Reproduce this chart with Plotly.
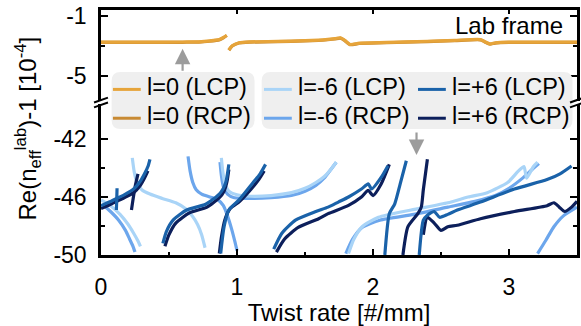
import plotly.graph_objects as go

# ---------------- data ----------------
# Top panel: l=0 (lab frame), values in 1e-4
l0_lcp_x = [0, 0.3, 0.6, 0.72, 0.8, 0.87, 0.9, 0.925, None, 0.94, 0.965, 1.015, 1.1, 1.3, 1.5, 1.65, 1.72, 1.76, 1.79, 1.83, 1.9, 2.1, 2.4, 2.6, 2.79, 2.82, 2.86, 2.9, 3.0, 3.2, 3.5]
l0_lcp_y = [-2.76, -2.76, -2.75, -2.74, -2.68, -2.59, -2.45, -2.3, None, -3.28, -3.0, -2.8, -2.74, -2.71, -2.66, -2.6, -2.53, -2.47, -2.62, -2.91, -2.83, -2.78, -2.7, -2.64, -2.59, -2.72, -2.87, -2.8, -2.76, -2.76, -2.75]
l0_rcp_x = [0, 0.3, 0.6, 0.72, 0.8, 0.87, 0.9, 0.925, None, 0.94, 0.965, 1.015, 1.1, 1.3, 1.5, 1.65, 1.72, 1.76, 1.79, 1.83, 1.9, 2.1, 2.4, 2.6, 2.79, 2.82, 2.86, 2.9, 3.0, 3.2, 3.5]
l0_rcp_y = [-2.78, -2.78, -2.77, -2.76, -2.7, -2.61, -2.47, -2.32, None, -3.3, -3.02, -2.82, -2.76, -2.73, -2.68, -2.62, -2.55, -2.49, -2.64, -2.93, -2.85, -2.8, -2.72, -2.66, -2.61, -2.74, -2.89, -2.82, -2.78, -2.78, -2.77]

# Bottom panel: l=-6 and l=+6
lm6_lcp_x = [0, 0.07, 0.14, 0.2, 0.24, 0.27, 0.29, None,
             0.23, 0.245, 0.265, 0.3, 0.36, 0.45, 0.55, 0.62, 0.67, 0.71, 0.74, 0.765, None,
             0.885, 0.895, 0.91, 0.94, 1.0, 1.1, 1.25, 1.4, 1.5, 1.58, 1.64, 1.69, 1.73, None,
             1.82, 1.86, 1.92, 2.04, 2.28, 2.55, 2.7, 2.84, 2.99, 3.07, 3.11, 3.13, 3.18, 3.21]
lm6_lcp_y = [-46.2, -46.6, -47.2, -47.9, -48.5, -49.0, -49.4, None,
             -43.3, -44.3, -45.0, -45.5, -45.8, -46.1, -46.4, -46.8, -47.3, -47.9, -48.6, -49.5, None,
             -43.3, -44.2, -45.0, -45.6, -45.85, -45.95, -45.9, -45.7, -45.4, -45.0, -44.6, -44.1, -43.6, None,
             -49.9, -48.9, -48.05, -47.4, -46.9, -46.4, -46.0, -45.7, -45.0, -44.2, -43.9, -44.7, -43.9, -43.6]

lm6_rcp_x = [0.01, 0.07, 0.13, 0.18, 0.21, 0.235, 0.25, None,
             0.64, 0.655, 0.675, 0.7, 0.74, 0.8, 0.86, 0.9, 0.93, 0.96, 0.985, 1.0, None,
             0.875, 0.885, 0.9, 0.93, 0.98, 1.1, 1.25, 1.4, 1.5, 1.58, 1.64, 1.69, 1.73, None,
             1.8, 1.85, 1.92, 2.05, 2.3, 2.55, 2.75, 2.9, 3.0, 3.1, 3.17, 3.22, None,
             3.21, 3.27, 3.33, 3.4, 3.5]
lm6_rcp_y = [-46.5, -47.0, -47.6, -48.3, -48.9, -49.4, -49.8, None,
             -43.2, -44.2, -45.0, -45.5, -45.8, -46.0, -46.2, -46.6, -47.3, -48.2, -49.1, -49.7, None,
             -43.6, -44.5, -45.3, -45.8, -46.05, -46.1, -46.05, -45.9, -45.6, -45.2, -44.7, -44.1, -43.6, None,
             -49.9, -48.9, -48.1, -47.6, -47.2, -46.7, -46.3, -45.9, -45.4, -44.7, -44.1, -43.7, None,
             -49.9, -49.0, -48.05, -47.3, -46.7]

lp6_lcp_x = [0, 0.06, 0.115, 0.17, 0.24, 0.29, 0.32, 0.345, 0.36, None,
             0.118, 0.116, 0.113, None,
             0.455, 0.48, 0.53, 0.63, 0.77, 0.87, 0.9, 0.92, 0.94, None,
             0.88, 0.905, 0.94, 1.015, 1.11, 1.17, 1.21, None,
             1.27, 1.33, 1.43, 1.58, 1.67, 1.745, 1.82, 1.915, 1.965, 1.99, 2.06, 2.11, None,
             2.087, 2.12, 2.16, 2.2, 2.245, None,
             2.34, 2.37, 2.40, 2.45, 2.49, 2.55, 2.62, 2.79, 3.04, 3.28, 3.375, 3.46]
lp6_lcp_y = [-46.6, -46.35, -46.1, -45.85, -45.45, -44.9, -44.4, -43.9, -43.4, None,
             -45.4, -46.1, -46.9, None,
             -49.2, -48.4, -47.6, -46.9, -46.5, -45.8, -45.4, -44.9, -43.75, None,
             -49.9, -48.05, -46.9, -46.2, -45.1, -44.4, -43.75, None,
             -49.6, -48.5, -47.6, -47.0, -46.7, -46.35, -46.0, -45.45, -45.1, -45.45, -44.65, -43.84, None,
             -50.0, -47.15, -46.47, -45.1, -43.5, None,
             -50.0, -47.6, -47.25, -47.0, -47.4, -47.2, -46.9, -46.35, -45.45, -44.8, -44.4, -43.86]

lp6_rcp_x = [0, 0.06, 0.115, 0.17, 0.24, 0.29, 0.32, 0.345, None,
             0.224, 0.24, 0.255, 0.272, None,
             0.47, 0.5, 0.55, 0.65, 0.78, 0.87, 0.905, 0.925, 0.94, None,
             0.87, 0.885, 0.91, 0.95, 1.02, 1.1, 1.16, 1.2, None,
             1.29, 1.35, 1.45, 1.6, 1.67, 1.82, 1.915, 1.965, 2.0, 2.06, 2.12, None,
             2.22, 2.257, 2.33, 2.355, 2.37, 2.40, None,
             2.37, 2.40, 2.45, 2.5, 2.55, 2.62, 2.79, 3.04, 3.28, 3.33, 3.37, 3.41, 3.46, 3.5]
lp6_rcp_y = [-46.8, -46.55, -46.3, -46.05, -45.7, -45.2, -44.7, -44.2, None,
             -46.9, -45.9, -45.1, -44.4, None,
             -49.4, -48.6, -47.8, -47.1, -46.7, -46.05, -45.6, -45.0, -44.1, None,
             -49.9, -48.8, -47.6, -46.8, -46.3, -45.5, -44.8, -44.2, None,
             -49.8, -48.9, -48.1, -47.5, -47.15, -46.58, -46.0, -45.55, -45.9, -45.1, -43.75, None,
             -50.0, -48.05, -47.15, -46.7, -45.5, -43.4, None,
             -48.6, -47.4, -47.8, -48.3, -48.05, -47.95, -47.5, -47.0, -46.6, -46.4, -46.7, -47.0, -46.7, -46.3]

legend_labels = ["l=0 (LCP)", "l=0 (RCP)", "l=-6 (LCP)", "l=-6 (RCP)", "l=+6 (LCP)", "l=+6 (RCP)"]
x_ticks = [0, 1, 2, 3]
top_ticks = [-1, -5]
bottom_ticks = [-42, -46, -50]

# ---------------- style ----------------
C_L0L = "#E6A43A"
C_L0R = "#C88A33"
C_M6L = "#A9D4F7"
C_M6R = "#6CA6EC"
C_P6L = "#1A62A9"
C_P6R = "#0C1F5B"
FONT = "Arial, Liberation Sans, sans-serif"

W, H = 581, 326
ML, MR, MT, MB = 101, 1, 10, 67
PW, PH = W - ML - MR, H - MT - MB


def xp(px):
    return (px - ML) / PW


def yp(py):
    return (H - MB - py) / PH


fig = go.Figure()

def add(x, y, color, name, xa, ya):
    fig.add_trace(go.Scatter(x=x, y=y, mode="lines", name=name, showlegend=False,
                             line=dict(color=color, width=3.2, shape="spline", smoothing=0.6),
                             xaxis=xa, yaxis=ya, connectgaps=False))

add(l0_rcp_x, l0_rcp_y, C_L0R, legend_labels[1], "x2", "y2")
add(l0_lcp_x, l0_lcp_y, C_L0L, legend_labels[0], "x2", "y2")
add(lm6_rcp_x, lm6_rcp_y, C_M6R, legend_labels[3], "x", "y")
add(lm6_lcp_x, lm6_lcp_y, C_M6L, legend_labels[2], "x", "y")
add(lp6_rcp_x, lp6_rcp_y, C_P6R, legend_labels[5], "x", "y")
add(lp6_lcp_x, lp6_lcp_y, C_P6L, legend_labels[4], "x", "y")

top_dom = [yp(102), 1]
bot_dom = [0, yp(106)]

axis_common = dict(showline=True, linecolor="black", linewidth=2.5, showgrid=False, zeroline=False,
                   ticks="inside", tickcolor="black", tickwidth=2,
                   tickfont=dict(family=FONT, size=23, color="black"))

fig.update_layout(
    width=W, height=H, margin=dict(l=ML, r=MR, t=MT, b=MB),
    paper_bgcolor="white", plot_bgcolor="white", showlegend=False,
    xaxis=dict(**axis_common, domain=[0, 1], anchor="y", range=[0, 3.5],
               tickmode="array", tickvals=x_ticks, ticklen=6, ticklabelstandoff=10,
               minor=dict(ticks="inside", ticklen=3, tickwidth=2, tickcolor="black", dtick=0.5, tick0=0),
               title=dict(text="Twist rate [#/mm]", font=dict(family=FONT, size=24, color="black"), standoff=8)),
    xaxis2=dict(**axis_common, domain=[0, 1], anchor="y2", range=[0, 3.5], matches="x", side="top",
                tickmode="array", tickvals=x_ticks, ticklen=4, showticklabels=False),
    yaxis=dict(**axis_common, domain=bot_dom, anchor="x", range=[-50, -39.62], mirror="ticks",
               tickmode="array", tickvals=bottom_ticks, ticktext=[str(v) for v in bottom_ticks], ticklen=7,
               minor=dict(ticks="inside", ticklen=4, tickwidth=2, tickcolor="black", tickmode="array", tickvals=[-48, -44]),
               ticklabelstandoff=7),
    yaxis2=dict(**axis_common, domain=top_dom, anchor="x2", range=[-6.63, -0.63], mirror="ticks",
                tickmode="array", tickvals=top_ticks, ticktext=[str(v) for v in top_ticks], ticklen=7,
                minor=dict(ticks="inside", ticklen=4, tickwidth=2, tickcolor="black", tickmode="array", tickvals=[-3]),
                ticklabelstandoff=7),
)

shapes = []

def rrect(x0, y0, x1, y1, r, color):
    X0, X1 = xp(x0), xp(x1)
    Y0, Y1 = yp(y0), yp(y1)
    rx, ry = r / PW, r / PH
    path = (f"M{X0+rx},{Y0} L{X1-rx},{Y0} Q{X1},{Y0} {X1},{Y0-ry} L{X1},{Y1+ry} Q{X1},{Y1} {X1-rx},{Y1} "
            f"L{X0+rx},{Y1} Q{X0},{Y1} {X0},{Y1+ry} L{X0},{Y0-ry} Q{X0},{Y0} {X0+rx},{Y0} Z")
    return dict(type="path", path=path, xref="paper", yref="paper", fillcolor=color,
                line=dict(width=0), layer="above")

shapes.append(rrect(111.7, 73, 255.5, 131, 9, "#EFEFEF"))
shapes.append(rrect(262.7, 73, 575.5, 131, 9, "#EFEFEF"))

# legend samples + labels
annotations = []
legend_pos = [(113, 90.7, C_L0L), (113, 120, C_L0R), (265, 90.7, C_M6L), (265, 120, C_M6R),
              (420, 90.7, C_P6L), (420, 120, C_P6R)]
for (lx, ly, col), lab in zip(legend_pos, legend_labels):
    shapes.append(dict(type="line", xref="paper", yref="paper", x0=xp(lx), x1=xp(lx + 28),
                       y0=yp(ly), y1=yp(ly), line=dict(color=col, width=3), layer="above"))
    annotations.append(dict(text=lab, xref="paper", yref="paper", x=xp(lx + 32), y=yp(ly - 2),
                            xanchor="left", yanchor="middle", showarrow=False,
                            font=dict(family=FONT, size=23.5, color="black")))

# axis break marks
for bx in (101, 580):
    for dy in (-2.5, 2.5):
        shapes.append(dict(type="line", xref="paper", yref="paper",
                           x0=xp(bx - 7), x1=xp(bx + 7), y0=yp(104 + dy + 2.5), y1=yp(104 + dy - 2.5),
                           line=dict(color="black", width=2), layer="above"))

annotations.append(dict(text="Lab frame", xref="paper", yref="paper", x=xp(568), y=yp(26),
                        xanchor="right", yanchor="middle", showarrow=False,
                        font=dict(family=FONT, size=24, color="black")))
annotations.append(dict(text="Re(n<sub>eff</sub><sup>lab</sup>)-1 [10<sup>-4</sup>]", xref="paper", yref="paper",
                        x=xp(28), y=yp(130), textangle=-90, xanchor="center", yanchor="middle",
                        showarrow=False, font=dict(family=FONT, size=24, color="black")))
# arrows
annotations.append(dict(text="", x=0.6, y=-3.2, xref="x2", yref="y2", ax=0.6, ay=-4.75, axref="x2", ayref="y2",
                        showarrow=True, arrowhead=2, arrowsize=1.4, arrowwidth=2.2, arrowcolor="#9C9C9C"))
annotations.append(dict(text="", x=2.32, y=-43.1, xref="x", yref="y", ax=2.32, ay=-41.45, axref="x", ayref="y",
                        showarrow=True, arrowhead=2, arrowsize=1.4, arrowwidth=2.2, arrowcolor="#9C9C9C"))

fig.update_layout(shapes=shapes, annotations=annotations)
fig.write_html("out.html")
